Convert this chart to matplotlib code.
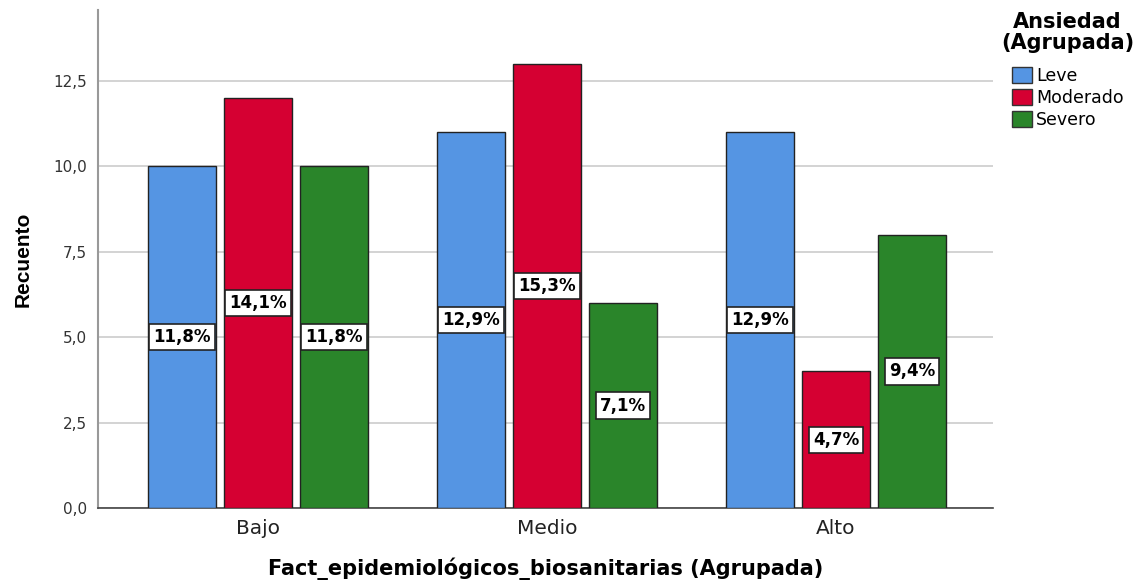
import matplotlib

matplotlib.use("Agg")
import matplotlib.pyplot as plt
import numpy as np
from matplotlib.patches import Patch

plt.rcParams["font.family"] = ["DejaVu Sans"]

categories = ["Bajo", "Medio", "Alto"]
series = ["Leve", "Moderado", "Severo"]
counts = {
    "Leve": [10, 11, 11],
    "Moderado": [12, 13, 4],
    "Severo": [10, 6, 8],
}
percents = {
    "Leve": ["11,8%", "12,9%", "12,9%"],
    "Moderado": ["14,1%", "15,3%", "4,7%"],
    "Severo": ["11,8%", "7,1%", "9,4%"],
}
colors = {"Leve": "#5595e3", "Moderado": "#d50032", "Severo": "#2a852a"}
yticks = [0, 2.5, 5.0, 7.5, 10.0, 12.5]

fig = plt.figure(figsize=(11.46, 5.81), dpi=100)
ax = fig.add_axes([98 / 1146, 1 - 508 / 581, 895 / 1146, 498 / 581])

x = np.arange(len(categories))
width = 0.235
step = 0.263
for i, name in enumerate(series):
    pos = x + (i - 1) * step
    vals = counts[name]
    ax.bar(pos, vals, width, color=colors[name], edgecolor="#222222",
           linewidth=1.0, zorder=3)
    # percentage tag centred halfway up each bar
    for xp, v, lab in zip(pos, vals, percents[name]):
        ax.text(xp, v / 2, lab, ha="center", va="center", fontsize=12,
                fontweight="bold", zorder=4,
                bbox=dict(boxstyle="square,pad=0.25", facecolor="white",
                          edgecolor="#222222", linewidth=1.2))

ax.set_xlim(-0.554, 2.543)
ax.set_ylim(0, 14.58)
ax.set_yticks(yticks)
ax.set_yticklabels([f"{t:.1f}".replace(".", ",") for t in yticks],
                   fontsize=11, color="#333333")
ax.set_xticks(x)
ax.set_xticklabels(categories, fontsize=14.5, color="#222222")
ax.tick_params(axis="both", length=0, pad=8)
ax.grid(axis="y", color="#cccccc", linewidth=1.2, zorder=0)
ax.set_axisbelow(True)

for side in ["top", "right"]:
    ax.spines[side].set_visible(False)
ax.spines["left"].set_color("#999999")
ax.spines["left"].set_linewidth(1.5)
ax.spines["bottom"].set_color("#444444")
ax.spines["bottom"].set_linewidth(1.2)

ax.set_xlabel("Fact_epidemiológicos_biosanitarias (Agrupada)", fontsize=15,
              fontweight="bold", labelpad=14)
ax.set_ylabel("Recuento", fontsize=15, fontweight="bold", labelpad=15,
              family="Liberation Sans")

handles = [Patch(facecolor=colors[s], edgecolor="#333333", linewidth=1.0)
           for s in series]
leg = fig.legend(handles, series, title="Ansiedad\n(Agrupada)",
                 loc="upper left", bbox_to_anchor=(1001 / 1146, 1 - 12 / 581),
                 frameon=False, fontsize=12.5, handlelength=1.2,
                 handleheight=1.05, handletextpad=0.2, labelspacing=0.25,
                 borderaxespad=0, borderpad=0)
leg.get_title().set_fontweight("bold")
leg.get_title().set_fontsize(15)
leg.get_title().set_multialignment("center")
leg.get_title().set_linespacing(1.05)
leg._legend_box.sep = 10

fig.savefig("out.png", dpi=100)
